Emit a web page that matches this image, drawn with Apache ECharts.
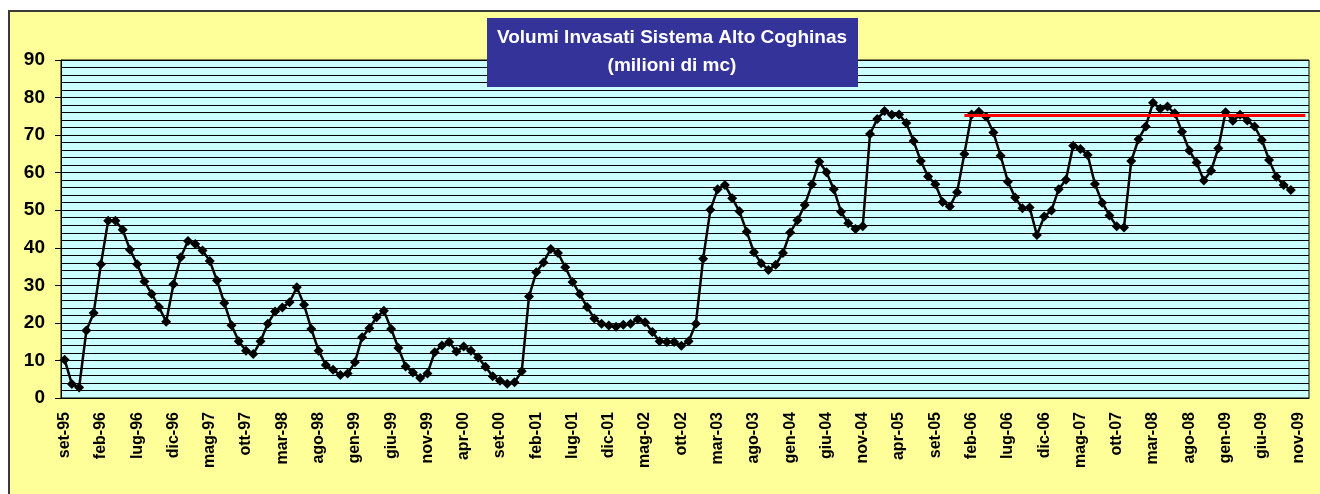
<!DOCTYPE html>
<html>
<head>
<meta charset="utf-8">
<script src="https://cdn.jsdelivr.net/npm/echarts@6/dist/echarts.min.js"></script>
<style>
  body { margin: 0; background: #fff; overflow: hidden; }
  #frame {
    position: absolute; left: 8px; top: 10px; width: 1330px; height: 500px;
    background: #ffff99; border-left: 2px solid #3a3a3a; border-top: 2px solid #3a3a3a;
  }
  #chart { position: absolute; left: 0; top: 0; width: 1320px; height: 494px; }
</style>
</head>
<body>
<div id="frame"></div>
<div id="chart"></div>
<script>
// mesi da set-95 a dic-09 (le ultime due senza dati)
var monthNames = ["gen", "feb", "mar", "apr", "mag", "giu", "lug", "ago", "set", "ott", "nov", "dic"];
var months = [];
for (var y = 1995; y <= 2009; y++) {
  for (var m = 0; m < 12; m++) {
    if (y === 1995 && m < 8) continue;
    months.push(monthNames[m] + "-" + String(y).slice(2));
  }
}

// volumi invasati (milioni di mc), set-95 .. ott-09
var volumi = [
  10.2, 3.7, 2.8, 18.0, 22.6, 35.6, 47.2, 47.2, 44.8, 39.5, 35.6, 31.0, 27.7, 24.2, 20.3, 30.3, 37.5, 41.8, 41.0, 39.3, 36.5, 31.3, 25.3, 19.4, 15.1,
  12.6, 11.7, 15.1, 19.8, 23.0, 24.1, 25.5, 29.5, 24.8, 18.4, 12.6, 8.8, 7.5, 6.1, 6.5, 9.5, 16.2, 18.6, 21.5, 23.2, 18.4, 13.3, 8.4, 6.8, 5.3,
  6.5, 12.2, 14.0, 14.9, 12.4, 13.7, 12.6, 10.8, 8.3, 5.8, 4.6, 3.8, 4.2, 7.1, 27.0, 33.5, 36.1, 39.7, 38.6, 34.8, 30.9, 27.7, 24.2, 21.2, 19.8,
  19.3, 19.0, 19.5, 19.8, 21.0, 20.2, 17.6, 15.1, 14.9, 14.9, 13.9, 15.1, 19.8, 37.1, 50.1, 55.6, 56.7, 53.2, 49.7, 44.3, 38.8, 35.9, 34.1, 35.5,
  38.6, 44.1, 47.3, 51.4, 56.9, 62.9, 60.1, 55.6, 49.6, 46.5, 45.0, 45.7, 70.3, 74.3, 76.4, 75.4, 75.5, 73.2, 68.4, 63.1, 59.0, 56.9, 52.2, 51.0, 54.8,
  65.0, 75.5, 76.2, 74.9, 70.7, 64.5, 57.6, 53.4, 50.5, 50.7, 43.4, 48.3, 49.9, 55.6, 58.1, 67.2, 66.3, 64.7, 57.0, 52.0, 48.6, 45.7, 45.4, 63.1, 68.9,
  72.3, 78.6, 77.0, 77.6, 75.8, 70.9, 65.9, 62.7, 57.9, 60.5, 66.5, 76.1, 73.8, 75.4, 73.9, 72.3, 68.7, 63.4, 58.9, 56.7, 55.4
];

// linea rossa di riferimento
var refLevel = 75.3;
var refFrom = "gen-06";
var refTo = "dic-09";

var yTicks = [0, 10, 20, 30, 40, 50, 60, 70, 80, 90];

var font = "'Liberation Sans', Arial, sans-serif";
var myChart = echarts.init(document.getElementById("chart"), null, { renderer: "canvas" });
var option = {
  animation: false,
  backgroundColor: "transparent",
  grid: {
    left: 61, right: 11, top: 60, bottom: 96,
    outerBoundsMode: "none",
    show: true,
    backgroundColor: "#ccffff",
    borderColor: "#000",
    borderWidth: 1
  },
  graphic: [
    {
      type: "rect",
      z: 50,
      shape: { x: 487, y: 18, width: 371, height: 69 },
      style: { fill: "#333399" }
    },
    {
      type: "text",
      z: 51,
      x: 672,
      y: 52,
      style: {
        text: "Volumi Invasati Sistema Alto Coghinas\n(milioni di mc)",
        fill: "#fff",
        font: "bold 19px " + font,
        textAlign: "center",
        textVerticalAlign: "middle",
        lineHeight: 28
      }
    }
  ],
  xAxis: {
    type: "category",
    data: months,
    boundaryGap: true,
    axisLine: { lineStyle: { color: "#000", width: 1 } },
    axisTick: { interval: 4, length: 6, lineStyle: { color: "#000" } },
    axisLabel: {
      interval: 4,
      rotate: 90,
      margin: 14,
      color: "#000",
      fontWeight: "bold",
      fontSize: 16,
      fontFamily: font
    },
    splitLine: { show: false }
  },
  yAxis: {
    type: "value",
    min: yTicks[0],
    max: yTicks[yTicks.length - 1],
    interval: 10,
    axisLine: { show: true, lineStyle: { color: "#000" } },
    axisTick: { show: true, length: 6, lineStyle: { color: "#000" } },
    axisLabel: {
      margin: 16,
      color: "#000",
      fontWeight: "bold",
      fontSize: 19,
      fontFamily: font
    },
    splitLine: { show: true, lineStyle: { color: "#000", width: 1 } },
    minorTick: { show: false, splitNumber: 5 },
    minorSplitLine: { show: true, lineStyle: { color: "#000", width: 1 } }
  },
  series: [
    {
      name: "Volumi",
      type: "line",
      data: volumi,
      symbol: "diamond",
      symbolSize: 10,
      showAllSymbol: true,
      itemStyle: { color: "#000" },
      lineStyle: { color: "#000", width: 2.5 },
      markLine: {
        silent: true,
        symbol: "none",
        label: { show: false },
        lineStyle: { color: "#ff0000", width: 3, type: "solid" },
        data: [[{ coord: [refFrom, refLevel] }, { coord: [refTo, refLevel] }]]
      }
    }
  ]
};
myChart.setOption(option);
window.addEventListener("resize", myChart.resize);
</script>
</body>
</html>
